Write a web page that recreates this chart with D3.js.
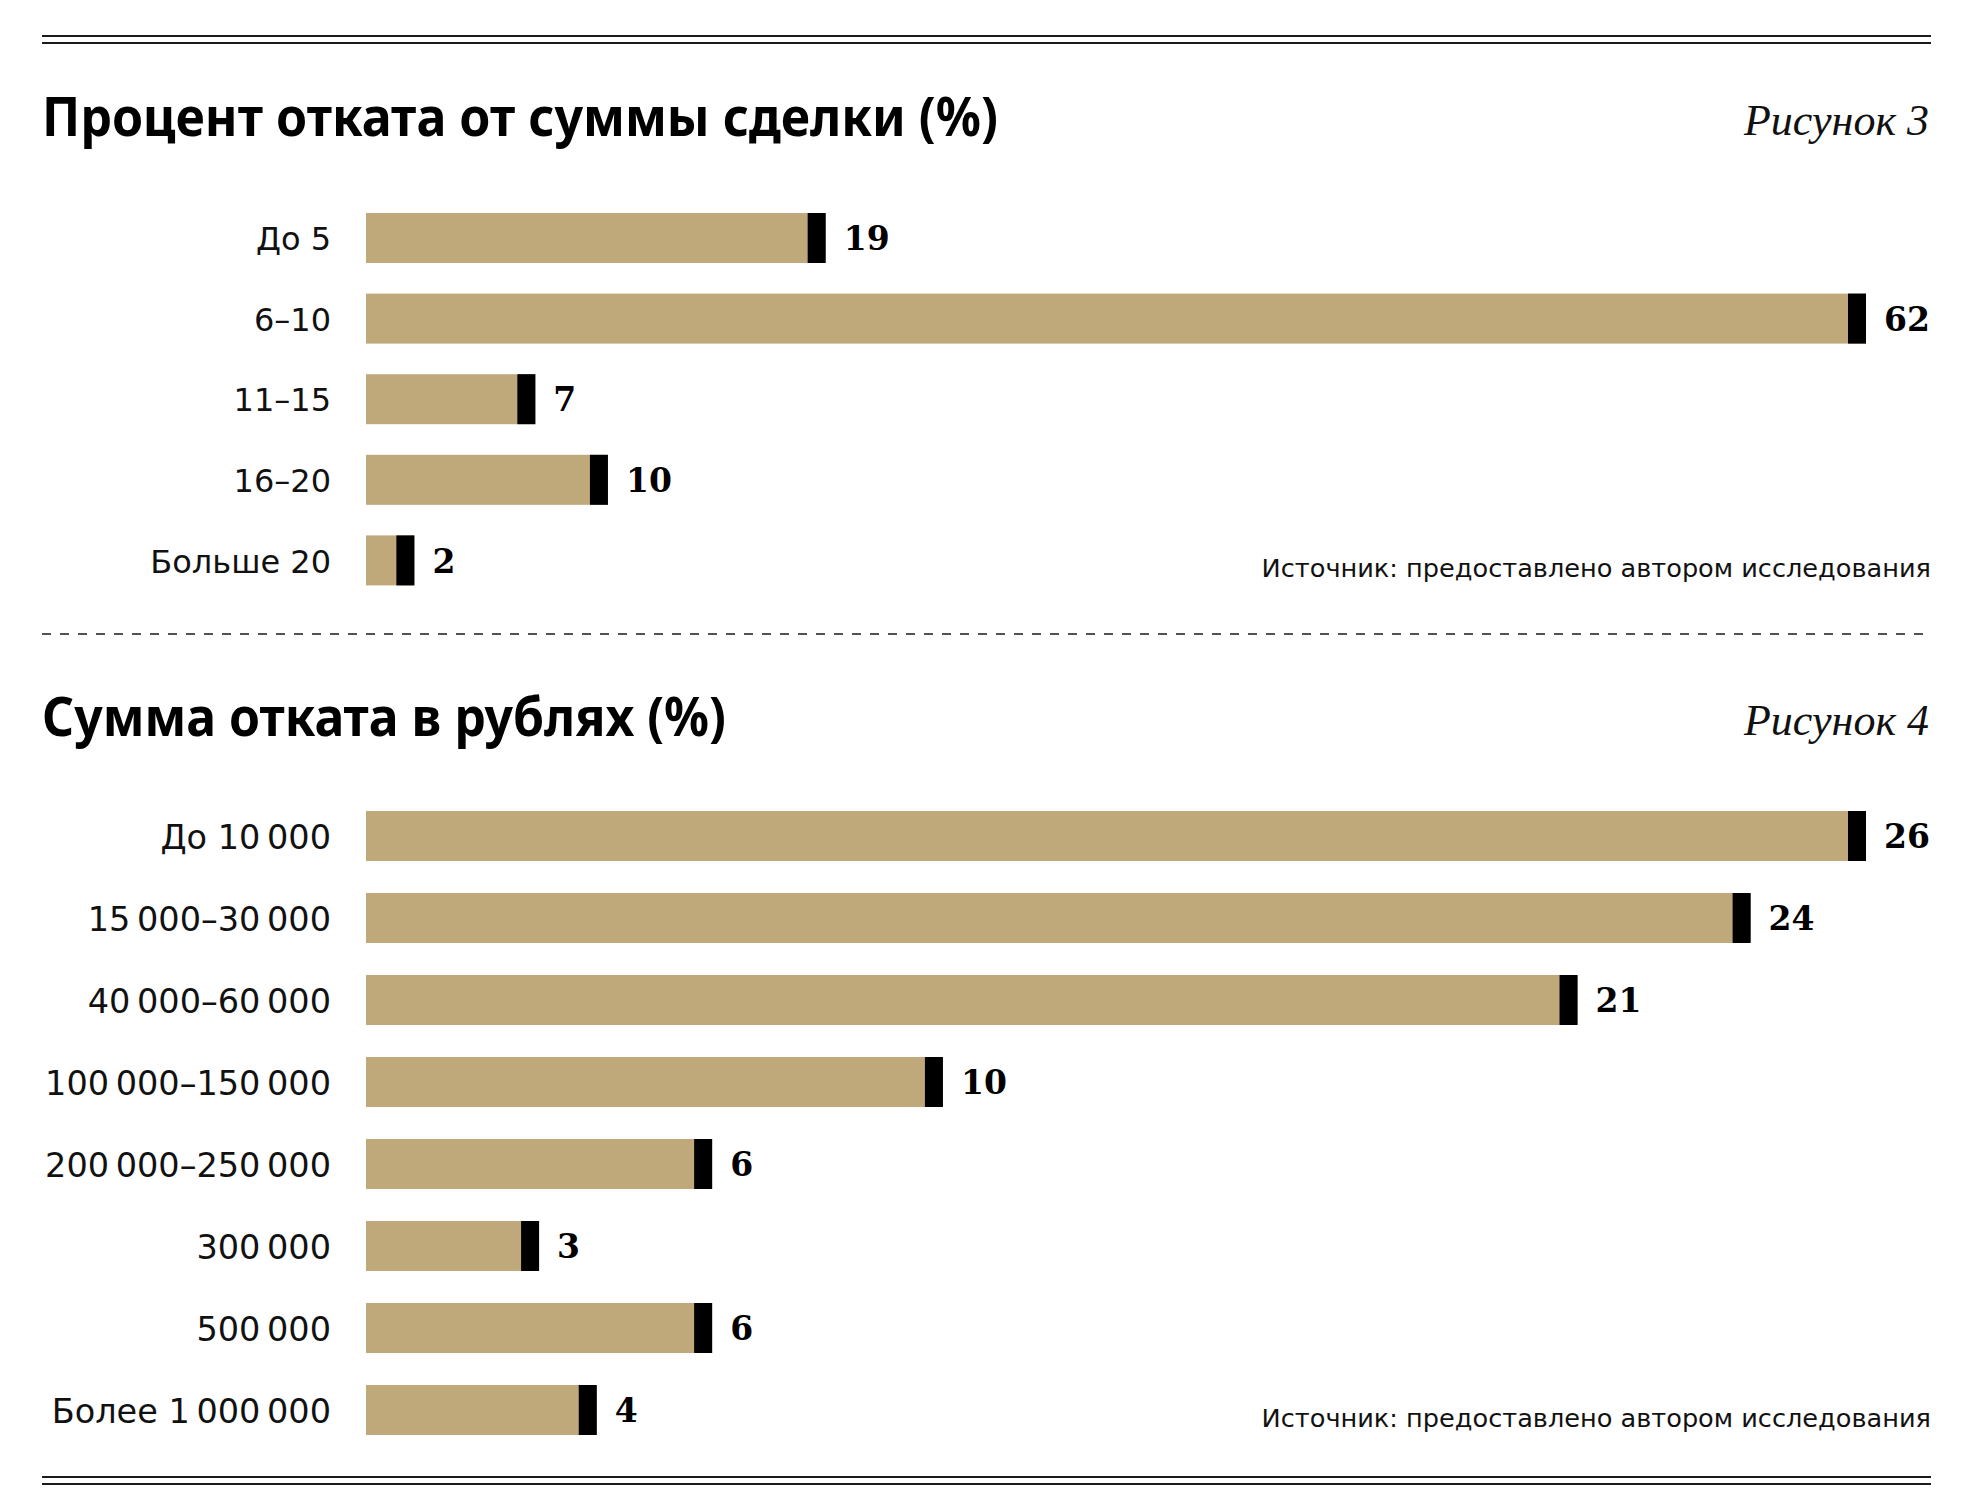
<!DOCTYPE html>
<html>
<head>
<meta charset="utf-8">
<script src="https://cdn.jsdelivr.net/npm/d3@7"></script>
<style>
  html, body { margin: 0; padding: 0; background: #fff; }
  svg { display: block; }
</style>
</head>
<body>
<svg id="chart" width="1988" height="1512"></svg>
<script>
// ---- Data ----
const title1 = "Процент отката от суммы сделки (%)";
const fig1 = "Рисунок 3";
const categories1 = ["До 5", "6–10", "11–15", "16–20", "Больше 20"];
const values1 = [19, 62, 7, 10, 2];

const title2 = "Сумма отката в рублях (%)";
const fig2 = "Рисунок 4";
const categories2 = ["До 10\u2009000", "15\u2009000–30\u2009000", "40\u2009000–60\u2009000", "100\u2009000–150\u2009000",
                     "200\u2009000–250\u2009000", "300\u2009000", "500\u2009000", "Более 1\u2009000\u2009000"];
const values2 = [26, 24, 21, 10, 6, 3, 6, 4];

const sourceText = "Источник: предоставлено автором исследования";

// ---- Style ----
const W = 1988, H = 1512;
const left = 42, right = 1931;
const barX0 = 366, barX1 = 1866;
const barColor = "#bfa87a";
const markW = 18;
const labelFont = "'DejaVu Sans', sans-serif";
const titleFont = "'Noto Sans', 'Open Sans', sans-serif";
const valueFont = "'DejaVu Serif', serif";
const figFont = "'Liberation Serif', serif";

const svg = d3.select("#chart");

function hline(y, dashed) {
  const l = svg.append("line")
    .attr("x1", left).attr("x2", right)
    .attr("y1", y).attr("y2", y)
    .attr("stroke", "#1a1a1a")
    .attr("stroke-width", dashed ? 1.5 : 2);
  if (dashed) l.attr("stroke-dasharray", "9,9");
}

function panel(opts) {
  const {title, titleWidth, fig, cats, vals, titleY, barTop, step, sourceY, labelSize} = opts;

  svg.append("text")
    .attr("x", left).attr("y", titleY)
    .attr("font-family", titleFont).attr("font-weight", 700)
    .attr("font-size", 53)
    .attr("textLength", titleWidth).attr("lengthAdjust", "spacingAndGlyphs")
    .attr("fill", "#000")
    .text(title);

  svg.append("text")
    .attr("x", right - 2).attr("y", titleY - 1)
    .attr("text-anchor", "end")
    .attr("font-family", figFont).attr("font-style", "italic")
    .attr("font-size", 44)
    .attr("fill", "#111")
    .text(fig);

  const n = cats.length;
  const p = (step - 50) / step;
  const y = d3.scaleBand()
    .domain(cats)
    .range([barTop - step * p / 2, barTop - step * p / 2 + n * step])
    .paddingInner(p).paddingOuter(p / 2);

  const x = d3.scaleLinear()
    .domain([0, d3.max(vals)])
    .range([barX0, barX1]);

  const data = cats.map((c, i) => ({c, v: vals[i]}));

  const g = svg.append("g");

  g.selectAll("rect.bar").data(data).join("rect")
    .attr("class", "bar")
    .attr("x", x(0))
    .attr("y", d => y(d.c))
    .attr("width", d => x(d.v) - x(0))
    .attr("height", y.bandwidth())
    .attr("fill", barColor);

  g.selectAll("rect.mark").data(data).join("rect")
    .attr("class", "mark")
    .attr("x", d => x(d.v) - markW)
    .attr("y", d => y(d.c))
    .attr("width", markW)
    .attr("height", y.bandwidth())
    .attr("fill", "#000");

  // category axis (labels only)
  const axis = d3.axisLeft(y).tickSize(0).tickPadding(0);
  const ag = g.append("g")
    .attr("transform", `translate(331,0)`)
    .call(axis);
  ag.select(".domain").remove();
  ag.selectAll("text")
    .attr("font-family", labelFont)
    .attr("font-size", labelSize)
    .attr("fill", "#111")
    .attr("dy", "0.38em");

  g.selectAll("text.val").data(data).join("text")
    .attr("class", "val")
    .attr("x", d => x(d.v) + 18)
    .attr("y", d => y(d.c) + y.bandwidth() / 2)
    .attr("dy", "0.37em")
    .attr("font-family", valueFont).attr("font-weight", 700)
    .attr("font-size", 33)
    .attr("fill", "#000")
    .text(d => d.v);

  svg.append("text")
    .attr("x", right).attr("y", sourceY)
    .attr("text-anchor", "end")
    .attr("font-family", labelFont)
    .attr("font-size", 25.6)
    .attr("fill", "#111")
    .text(sourceText);
}

hline(36); hline(43);

panel({title: title1, titleWidth: 956, fig: fig1, cats: categories1, vals: values1,
       titleY: 136, barTop: 213, step: 80.6, sourceY: 577, labelSize: 32});

hline(634, true);

panel({title: title2, titleWidth: 684, fig: fig2, cats: categories2, vals: values2,
       titleY: 736, barTop: 811, step: 82, sourceY: 1427, labelSize: 33.5});

hline(1477); hline(1484);
</script>
</body>
</html>
